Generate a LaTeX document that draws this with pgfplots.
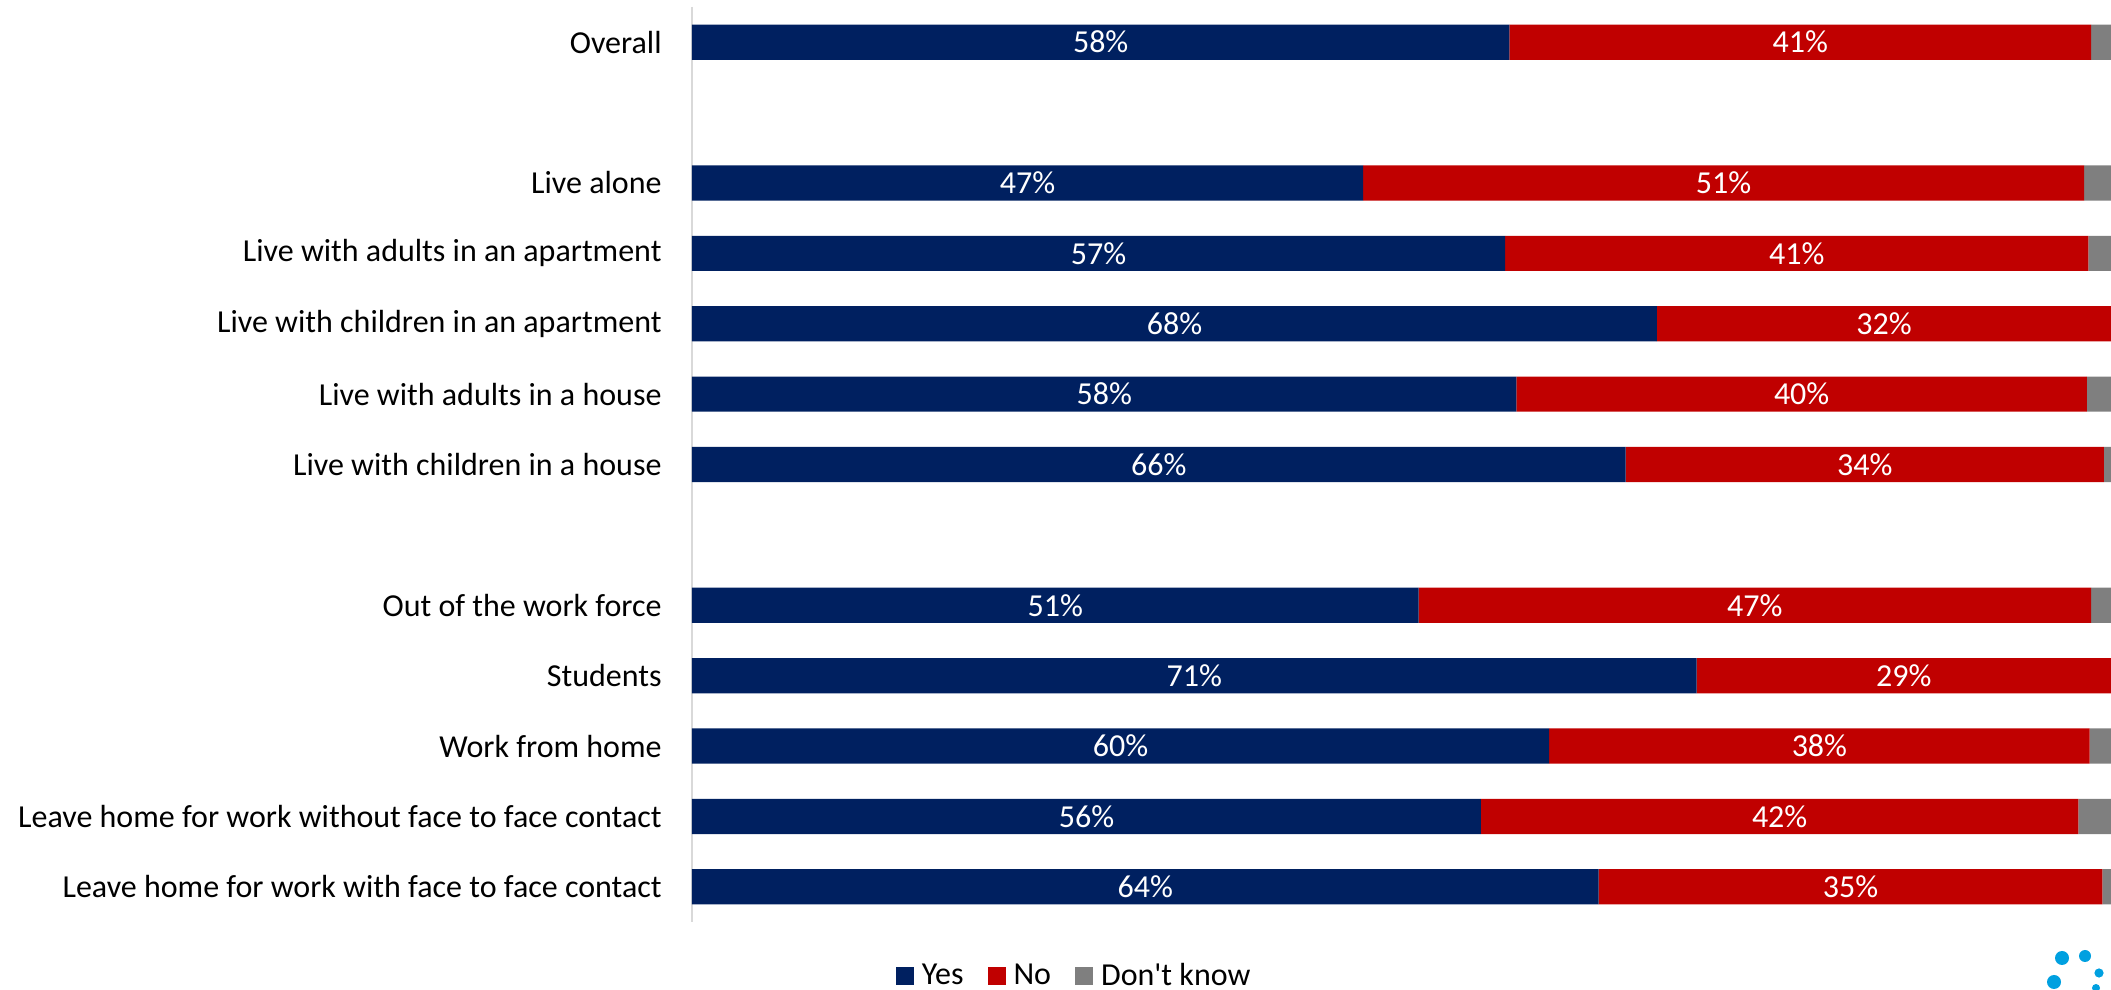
\documentclass[border=0pt]{standalone}
\usepackage{pgfplots}
\usepackage{pgfplotstable}
\pgfplotsset{compat=1.18}
\usepackage{fontspec}
\setmainfont{Carlito}
\definecolor{cyes}{HTML}{002060}
\definecolor{cno}{HTML}{C00000}
\definecolor{cdk}{HTML}{7F7F7F}
\definecolor{caxis}{HTML}{D9D9D9}
\definecolor{clogo}{HTML}{00A0E0}

\pgfplotstableread{
row yes  no   dk  yl nl
0   57.6 41.0 1.4 58 41
2   47.3 50.8 1.9 47 51
3   57.3 41.1 1.6 57 41
4   68.0 32.0 0.0 68 32
5   58.1 40.2 1.7 58 40
6   65.8 33.7 0.5 66 34
8   51.2 47.4 1.4 51 47
9   70.8 29.2 0.0 71 29
10  60.4 38.1 1.5 60 38
11  55.6 42.1 2.3 56 42
12  63.9 35.5 0.6 64 35
}\datatable

\begin{document}
\begin{tikzpicture}
\useasboundingbox (0,0) rectangle (1055.5pt,495pt);
\pgfplotsset{
  common/.style={
    at={(346pt,34pt)}, anchor=south west,
    scale only axis, width=709.5pt, height=457.5pt,
    xmin=0, xmax=100, ymin=-0.5, ymax=12.5, y dir=reverse,
  },
  lab/.style={draw=none, mark=none, point meta=explicit,
    nodes near coords={\pgfmathprintnumber[fixed,precision=0,assume math mode=true]{\pgfplotspointmeta}\%},
    every node near coord/.append style={anchor=center, text=white, font=\fontsize{16}{19}\selectfont}},
}
\begin{axis}[common,
  xbar stacked, bar width=0.5,
  axis x line=none,
  axis y line*=left,
  y axis line style={draw=caxis, line width=1pt},
  major tick length=0pt,
  ytick={0,2,3,4,5,6,8,9,10,11,12},
  yticklabels={Overall,Live alone,Live with adults in an apartment,Live with children in an apartment,Live with adults in a house,Live with children in a house,Out of the work force,Students,Work from home,Leave home for work without face to face contact,Leave home for work with face to face contact},
  yticklabel style={font=\fontsize{16}{19}\selectfont, inner sep=0pt, anchor=east, xshift=-15pt},
  legend style={at={(0.27,-0.059)}, anchor=center, draw=none, fill=none,
    legend columns=-1, font=\fontsize{16}{19}\selectfont,
    /tikz/every even column/.append style={column sep=10pt}},
  legend image code/.code={\fill[#1] (0pt,-4.5pt) rectangle (9pt,4.5pt);},
]
\addplot[fill=cyes, draw=none] table[x=yes, y=row] {\datatable};
\addplot[fill=cno, draw=none] table[x=no, y=row] {\datatable};
\addplot[fill=cdk, draw=none] table[x=dk, y=row] {\datatable};
\legend{\hspace{2pt}Yes,\hspace{2pt}No,\hspace{2pt}Don\textquotesingle t know}
\end{axis}
\begin{axis}[common, hide axis]
\addplot[lab] table[x expr=\thisrow{yes}/2, y=row, meta=yl] {\datatable};
\addplot[lab] table[x expr=\thisrow{yes}+\thisrow{no}/2, y=row, meta=nl] {\datatable};
\end{axis}
\fill[clogo] (1031pt,16pt) circle (3.5pt);
\fill[clogo] (1042.5pt,17pt) circle (3pt);
\fill[clogo] (1049.5pt,8.5pt) circle (2.3pt);
\fill[clogo] (1027pt,4pt) circle (3.5pt);
\fill[clogo] (1048pt,1pt) circle (2pt);
\end{tikzpicture}
\end{document}
